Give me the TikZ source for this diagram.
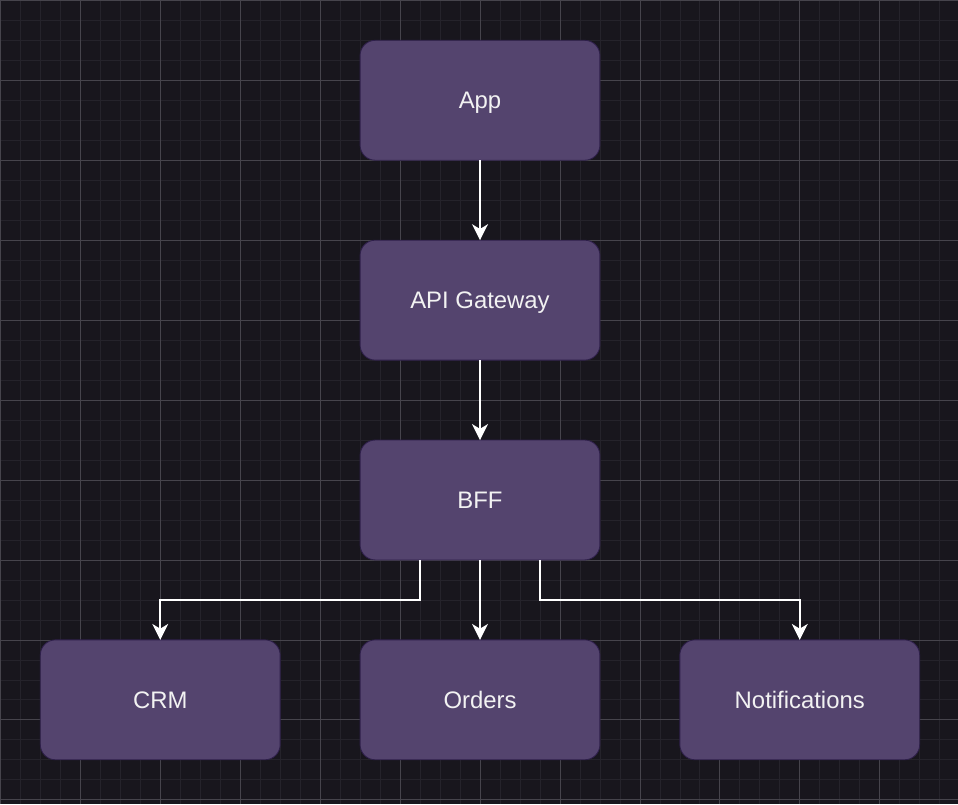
\documentclass[tikz,border=0pt]{standalone}
\usepackage{fontspec}
\setmainfont{Liberation Sans}
\usepackage{xcolor}
\usetikzlibrary{arrows.meta,positioning}

\definecolor{canvas}{HTML}{18161D}
\definecolor{gridminor}{HTML}{25232B}
\definecolor{gridmajor}{HTML}{46444C}
\definecolor{boxfill}{HTML}{54446E}
\definecolor{boxline}{HTML}{2E1F4A}
\definecolor{textcol}{HTML}{F2F2F2}

\begin{document}
\begin{tikzpicture}[
  node distance=2cm,
  box/.style={rectangle, draw=boxline, line width=0.6pt, rounded corners=0.38cm,
    minimum width=6cm, minimum height=3cm, outer sep=0pt,
    text height=0.43cm, text depth=0cm,
    align=center, font=\fontsize{17}{20}\selectfont, fill=boxfill, text=textcol},
  arr/.style={-{Stealth[length=0.4cm,width=0.4cm,inset=0.12cm]}, line width=1.1pt, draw=white}
]
% background and grid
\fill[canvas] (0,0) rectangle (23.95,-20.1);
\draw[gridminor, line width=0.5pt] (0,-20.1) grid[step=0.5] (23.95,0);
\draw[gridmajor, line width=0.5pt] (0,-20.1) grid[step=2] (23.95,0);
\useasboundingbox (0,0) rectangle (23.95,-20.1);

\node[box] (App) at (12,-2.5) {App};
\node[box, below=of App] (Gateway) {API Gateway};
\node[box, below=of Gateway] (BFF) {BFF};
\node[box, below=of BFF] (Orders) {Orders};
\node[box, left=of Orders] (CRM) {CRM};
\node[box, right=of Orders] (Notif) {Notifications};

\draw[arr] (App) -- (Gateway);
\draw[arr] (Gateway) -- (BFF);
\draw[arr] (BFF) -- (Orders);
\draw[arr] ([xshift=-1.5cm]BFF.south) -- ++(0,-1) -| (CRM.north);
\draw[arr] ([xshift=1.5cm]BFF.south) -- ++(0,-1) -| (Notif.north);
\end{tikzpicture}
\end{document}
